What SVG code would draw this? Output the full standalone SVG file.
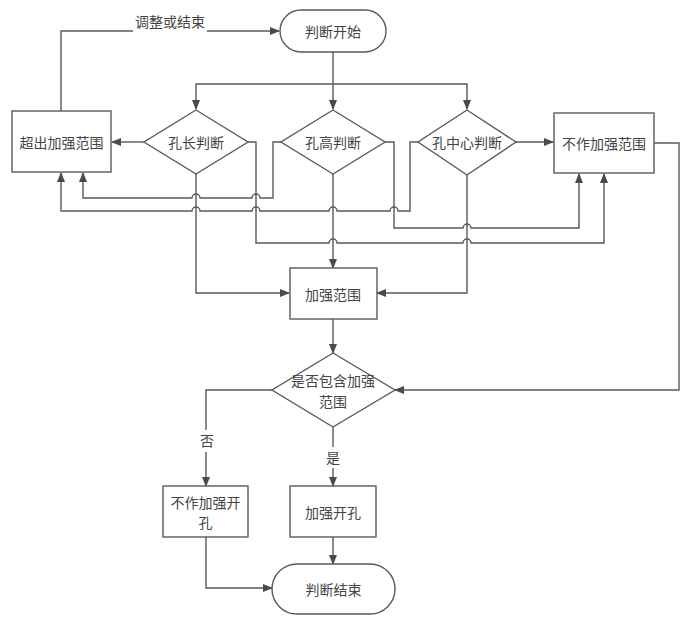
<svg xmlns="http://www.w3.org/2000/svg" width="681" height="618" viewBox="0 0 681 618">
<style>
.s{fill:#fff;stroke:#5a5a5a;stroke-width:1.4}
.c{fill:none;stroke:#5a5a5a;stroke-width:1.4}
.t{font-family:"Noto Sans CJK SC","Liberation Sans",sans-serif;font-size:14px;fill:#444;text-anchor:middle;dominant-baseline:central}
</style>
<defs>
<marker id="a" markerWidth="10" markerHeight="8" refX="9" refY="4" orient="auto" markerUnits="userSpaceOnUse">
<path d="M0,0 L10,4 L0,8 Z" fill="#4a4a4a"/>
</marker>
</defs>
<rect width="681" height="618" fill="#fff"/>
<g id="connectors">
<path class="c" d="M61,111 V31 H133"/>
<path class="c" d="M207,31 H279" marker-end="url(#a)"/>
<path class="c" d="M333,52 V109" marker-end="url(#a)"/>
<path class="c" d="M333,84 H196 V109" marker-end="url(#a)"/>
<path class="c" d="M333,84 H467 V109" marker-end="url(#a)"/>
<path class="c" d="M144,142 H112" marker-end="url(#a)"/>
<path class="c" d="M516,142 H553" marker-end="url(#a)"/>
<path class="c" d="M281,142 H273 V198 H260 a4,4 0 0 0 -8,0 H200 a4,4 0 0 0 -8,0 H83 V173" marker-end="url(#a)"/>
<path class="c" d="M418,142 H410 V211 H398 a4,4 0 0 0 -8,0 H337 a4,4 0 0 0 -8,0 H260 a4,4 0 0 0 -8,0 H200 a4,4 0 0 0 -8,0 H61 V173" marker-end="url(#a)"/>
<path class="c" d="M385,142 H394 V228 H463 a4,4 0 0 1 8,0 H579 V174" marker-end="url(#a)"/>
<path class="c" d="M248,142 H256 V243 H329 a4,4 0 0 1 8,0 H463 a4,4 0 0 1 8,0 H604 V174" marker-end="url(#a)"/>
<path class="c" d="M196,174 V293 H289" marker-end="url(#a)"/>
<path class="c" d="M333,174 V268" marker-end="url(#a)"/>
<path class="c" d="M467,175 V293 H377" marker-end="url(#a)"/>
<path class="c" d="M333,319 V353" marker-end="url(#a)"/>
<path class="c" d="M654,143 H679 V390 H395" marker-end="url(#a)"/>
<path class="c" d="M272,390 H206 V430"/>
<path class="c" d="M206,452 V486" marker-end="url(#a)"/>
<path class="c" d="M333,427 V447"/>
<path class="c" d="M333,468 V486" marker-end="url(#a)"/>
<path class="c" d="M333,537 V564" marker-end="url(#a)"/>
<path class="c" d="M206,537 V588 H272" marker-end="url(#a)"/>
<text class="t" x="170" y="21">调整或结束</text>
<text class="t" x="207" y="440">否</text>
<text class="t" x="333" y="457">是</text>
</g>
<g id="start">
<rect class="s" x="280" y="10" width="106" height="42" rx="21"/>
<text class="t" x="333" y="31">判断开始</text>
</g>
<g id="exceed">
<rect class="s" x="12" y="111" width="99" height="61"/>
<text class="t" x="61.5" y="141.5">超出加强范围</text>
</g>
<g id="d-length">
<polygon class="s" points="196,110 248,142 196,174 144,142"/>
<text class="t" x="196" y="142">孔长判断</text>
</g>
<g id="d-height">
<polygon class="s" points="333,110 385,142 333,174 281,142"/>
<text class="t" x="333" y="142">孔高判断</text>
</g>
<g id="d-center">
<polygon class="s" points="467,110 516,142 467,175 418,142"/>
<text class="t" x="467" y="142">孔中心判断</text>
</g>
<g id="no-range">
<rect class="s" x="554" y="113" width="100" height="60"/>
<text class="t" x="604" y="143">不作加强范围</text>
</g>
<g id="range">
<rect class="s" x="290" y="268" width="87" height="51"/>
<text class="t" x="333" y="293.5">加强范围</text>
</g>
<g id="d-contain">
<polygon class="s" points="333,353 395,390 333,427 272,390"/>
<text class="t" x="333" y="380">是否包含加强</text>
<text class="t" x="333" y="401">范围</text>
</g>
<g id="no-hole">
<rect class="s" x="163" y="486" width="85" height="51"/>
<text class="t" x="205.5" y="502">不作加强开</text>
<text class="t" x="205.5" y="522">孔</text>
</g>
<g id="hole">
<rect class="s" x="290" y="486" width="86" height="51"/>
<text class="t" x="333" y="511.5">加强开孔</text>
</g>
<g id="end">
<rect class="s" x="272" y="564" width="123" height="50" rx="25"/>
<text class="t" x="333.5" y="589">判断结束</text>
</g>
</svg>
